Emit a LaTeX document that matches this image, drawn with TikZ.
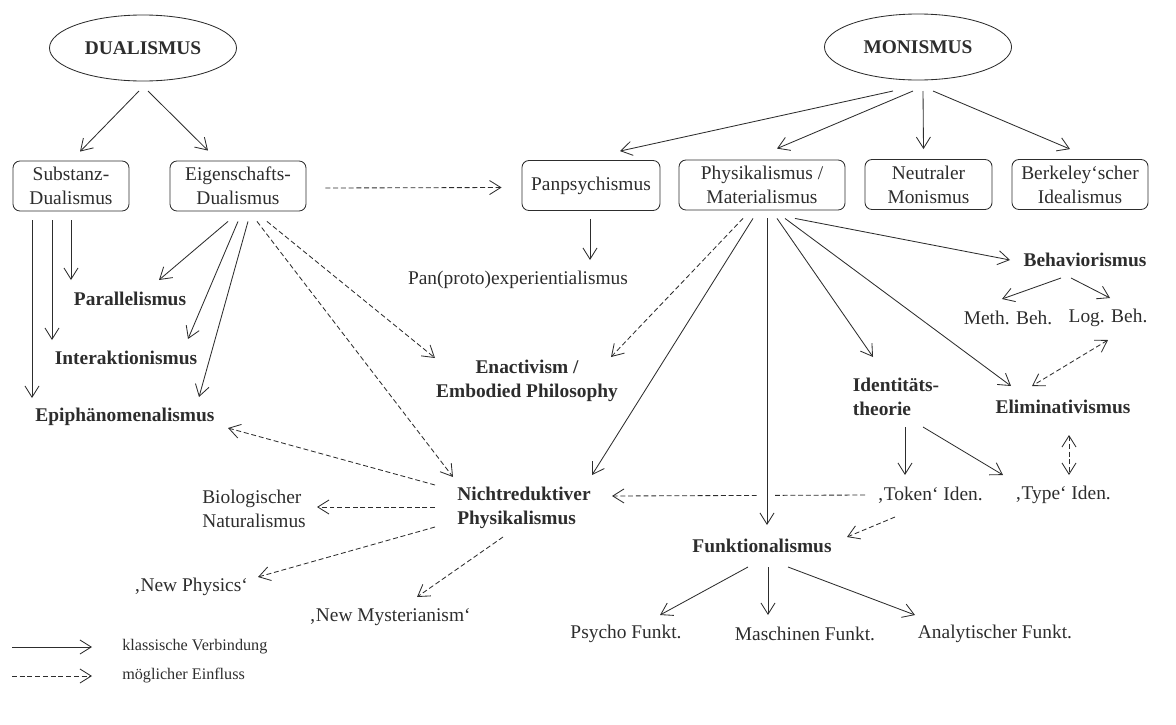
\documentclass[tikz,border=0pt]{standalone}
\usepackage{fontspec}
\setmainfont{Liberation Serif}
\usepackage{tikz}
\usetikzlibrary{arrows.meta,calc,shapes.geometric}
\definecolor{ink}{RGB}{45,45,45}
\newcommand{\fsz}{\fontsize{13.8}{17}\selectfont}
\newcommand{\legfsz}{\fontsize{11.5}{14}\selectfont}
\tikzset{
  ell/.style={ellipse,draw=ink,line width=0.6pt,minimum width=4.675cm,minimum height=1.65cm,inner sep=0pt,font=\fsz\bfseries,text=ink},
  box/.style={rectangle,rounded corners=5pt,draw=ink,line width=0.6pt,minimum height=1.25cm,align=center,inner sep=0pt,font=\fsz,text=ink},
  txt/.style={inner sep=0pt,font=\fsz,text=ink},
  lbl/.style={inner sep=0pt,font=\fsz\bfseries,text=ink},
  arr/.style={-{Straight Barb[length=8pt,width=10pt]},draw=ink,line width=0.6pt},
  darr/.style={arr,dash pattern=on 3.5pt off 2pt},
  ddarr/.style={darr,{Straight Barb[length=8pt,width=10pt]}-{Straight Barb[length=8pt,width=10pt]}},
}

\begin{document}
\begin{tikzpicture}[x=0.025cm,y=-0.025cm]
\useasboundingbox (0,0) rectangle (1176,724);
% the two roots
\node[ell] (dual) at (143,48) {DUALISMUS};
\node[ell] (mono) at (918,47) {MONISMUS};
% first row of boxes
\node[box,minimum width=2.9cm] (sub) at (71,186) {Substanz-\\Dualismus};
\node[box,minimum width=3.4cm] (eig) at (238,186) {Eigenschafts-\\Dualismus};
\node[box,minimum width=3.45cm] (panp) at (591,185.5) {Panpsychismus};
\node[box,minimum width=4.15cm] (phys) at (762,185) {Physikalismus /\\Materialismus};
\node[box,minimum width=3.175cm] (neut) at (928.5,184.5) {Neutraler\\Monismus};
\node[box,minimum width=3.4cm] (berk) at (1080,184.5) {Berkeley‘scher\\Idealismus};
% dualist side
\node[lbl] (par) at (130,299) {Parallelismus};
\node[lbl] (inter) at (126,358) {Interaktionismus};
\node[lbl] (epi) at (125,417) {Epiphänomenalismus};
\node[txt] (panproto) at (518,280) {Pan(proto)experientialismus};
\node[lbl,align=center] (enact) at (527,381) {Enactivism /\\Embodied Philosophy};
\node[lbl,align=left] (nichtred) at (524,508) {Nichtreduktiver\\Physikalismus};
\node[txt,align=left] (bio) at (254,509) {Biologischer\\Naturalismus};
\node[txt] (newphys) at (191,587) {‚New Physics‘};
\node[txt] (newmyst) at (390,617) {‚New Mysterianism‘};
% monist side
\node[lbl] (behav) at (1085,260) {Behaviorismus};
\node[txt] (meth) at (1008,318) {Meth. Beh.};
\node[txt] (log) at (1108,318) {Log. Beh.};
\node[lbl,align=left] (ident) at (896,397) {Identitäts-\\theorie};
\node[lbl] (elim) at (1063,407) {Eliminativismus};
\node[txt] (token) at (930,495) {‚Token‘ Iden.};
\node[txt] (type) at (1063,495) {‚Type‘ Iden.};
\node[lbl] (funkt) at (762,546) {Funktionalismus};
\node[txt] (psycho) at (626,634) {Psycho Funkt.};
\node[txt] (masch) at (805,634) {Maschinen Funkt.};
\node[txt] (analyt) at (995,634) {Analytischer Funkt.};
% legend
\node[txt,anchor=west,font=\legfsz] (leg1) at (122,647) {klassische Verbindung};
\node[txt,anchor=west,font=\legfsz] (leg2) at (122,676) {möglicher Einfluss};
\coordinate (l1) at (12,647);
\coordinate (l2) at (12,676);
\draw[arr] (l1) -- ($(leg1.west)+(-30,0)$);
\draw[darr] (l2) -- ($(leg2.west)+(-30,0)$);

% roots to the first row
\draw[arr] ($(dual)+(-4,43)$) -- ($(sub.north)+(9,-9)$);
\draw[arr] ($(dual)+(5,43)$) -- ($(eig.north)+(-30,-10)$);
\draw[arr] ($(mono)+(-25,44)$) -- ($(panp.north)+(29,-9)$);
\draw[arr] ($(mono)+(-5,44)$) -- ($(phys.north)+(15,-11)$);
\draw[arr] ($(mono)+(5,44)$) -- ($(neut.north)+(-5,-10)$);
\draw[arr] ($(mono)+(15,44)$) -- ($(berk.north)+(-10,-10)$);
\draw[darr] ($(eig.east)+(19,2)$) -- ($(panp.west)+(-20,2)$);
\draw[arr] ($(panp.south)+(-1,8)$) -- ($(panproto)+(72,-20)$);
% Substanz- and Eigenschafts-Dualismus
\draw[arr] ($(sub.south)+(-39,9)$) -- ($(epi)+(-93,-19)$);
\draw[arr] ($(sub.south)+(-19,9)$) -- ($(inter)+(-74,-18)$);
\draw[arr] ($(sub.south)+(0,9)$) -- ($(par)+(-59,-19)$);
\draw[arr] ($(eig.south)+(-10,10)$) -- ($(par)+(29,-19)$);
\draw[arr] ($(eig.south)+(0,10)$) -- ($(inter)+(62,-19)$);
\draw[arr] ($(eig.south)+(10,10)$) -- ($(epi)+(74,-20)$);
\draw[darr] ($(eig.south)+(19,10)$) -- ($(nichtred)+(-71,-31)$);
\draw[darr] ($(eig.south)+(29,10)$) -- ($(enact)+(-92,-23)$);
% Physikalismus fan
\draw[darr] ($(phys.south)+(-19,8)$) -- ($(enact)+(84,-24)$);
\draw[arr] ($(phys.south)+(-9,8)$) -- ($(nichtred)+(68,-33)$);
\draw[arr] ($(phys.south)+(15,8)$) -- ($(ident)+(-23,-40)$);
\draw[arr] ($(phys.south)+(23,8)$) -- ($(elim)+(-52,-21)$);
\draw[arr] ($(phys.south)+(33,8)$) -- ($(behav)+(-75,0)$);
\draw[arr] ($(behav)+(-24,18)$) -- ($(meth)+(-6,-19)$);
\draw[arr] ($(behav)+(-14,18)$) -- ($(log)+(2,-20)$);
\draw[ddarr] ($(log)+(0,22)$) -- ($(elim)+(-31,-21)$);
\draw[ddarr] ($(elim)+(6,28)$) -- ($(type)+(6,-20)$);
\draw[arr] ($(ident)+(9,30)$) -- ($(token)+(-25,-20)$);
\draw[arr] ($(ident)+(27,30)$) -- ($(type)+(-60,-20)$);
\draw[darr] ($(token)+(-65,0)$) -- ($(nichtred)+(88,-12)$);
\draw[darr] ($(token)+(-35,22)$) -- ($(funkt)+(85,-9)$);
\draw[arr,preaction={draw=white,line width=12pt,-}] ($(phys.south)+(5,8)$) -- ($(funkt)+(5,-21)$);
% Nichtreduktiver Physikalismus
\draw[darr] ($(nichtred)+(-89,-23)$) -- ($(epi)+(103,11)$);
\draw[darr] ($(nichtred)+(-89,-1)$) -- ($(bio)+(63,-2)$);
\draw[darr] ($(nichtred)+(-89,19)$) -- ($(newphys)+(67,-10)$);
\draw[darr] ($(nichtred)+(-21,29)$) -- ($(newmyst)+(27,-20)$);
% Funktionalismus
\draw[arr] ($(funkt)+(-14,21)$) -- ($(psycho)+(34,-19)$);
\draw[arr] ($(funkt)+(6,21)$) -- ($(masch)+(-37,-19)$);
\draw[arr] ($(funkt)+(26,21)$) -- ($(analyt)+(-80,-19)$);
\end{tikzpicture}
\end{document}
